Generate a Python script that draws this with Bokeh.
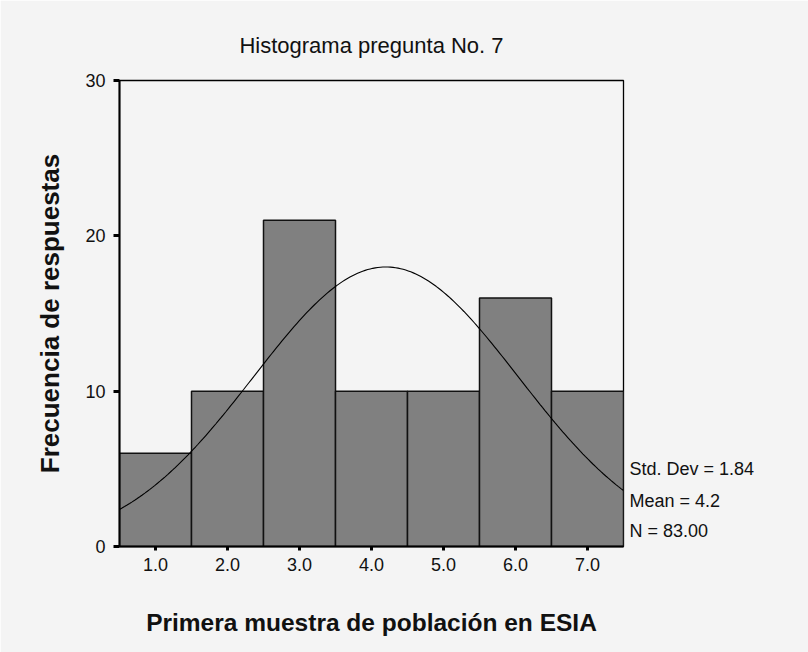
import numpy as np
from bokeh.plotting import figure
from bokeh.models import Range1d, FixedTicker, NumeralTickFormatter, LinearAxis, ColumnDataSource
from bokeh.embed import file_html
from bokeh.resources import INLINE

# ---- data ----
bin_centers = [1.0, 2.0, 3.0, 4.0, 5.0, 6.0, 7.0]
frequencies = [6, 10, 21, 10, 10, 16, 10]
y_ticks = [0, 10, 20, 30]
std_dev = 1.84
mean = 4.2
n_total = 83
bin_width = 1.0

title_text = "Histograma pregunta No. 7"
x_label_text = "Primera muestra de población en ESIA"
y_label_text = "Frecuencia de respuestas"
stats_texts = ["Std. Dev = 1.84", "Mean = 4.2", "N = 83.00"]
stats_rows = [4.96, 2.96, 1.03]   # vertical placement of the statistics lines (y units)

FONT = "Liberation Sans"
BG = "#f4f4f4"
INK = "#111111"

p = figure(width=808, height=652, output_backend="svg", toolbar_location=None,
           x_range=Range1d(0.5, 7.5), y_range=Range1d(0, 30),
           min_border_left=119, min_border_right=185, min_border_top=80, min_border_bottom=106)
p.background_fill_color = BG
p.border_fill_color = BG
p.outline_line_color = "black"
p.outline_line_width = 1.3
p.xgrid.visible = False
p.ygrid.visible = False

# title
p.title.text = title_text
p.title.align = "center"
p.title.text_font = FONT
p.title.text_font_size = "22px"
p.title.text_font_style = "normal"
p.title.text_color = INK
p.title.standoff = 46

# bars
src = ColumnDataSource(dict(x=bin_centers, top=frequencies))
p.vbar(x="x", top="top", width=bin_width, bottom=0, source=src,
       fill_color="#808080", line_color=INK, line_width=1.5)

# fitted normal curve from the displayed statistics
xs = np.linspace(0.5, 7.5, 200)
ys = n_total * bin_width / (std_dev * np.sqrt(2 * np.pi)) * np.exp(-0.5 * ((xs - mean) / std_dev) ** 2)
p.line(xs, ys, line_color="black", line_width=1.1)

# axes
for ax in (p.xaxis[0], p.yaxis[0]):
    ax.axis_line_color = "black"
    ax.axis_line_width = 2
    ax.major_tick_line_color = "black"
    ax.major_tick_line_width = 3
    ax.major_tick_in = 0
    ax.minor_tick_line_color = None
    ax.major_label_text_font = FONT
    ax.major_label_text_font_size = "18px"
    ax.major_label_text_color = INK
    ax.axis_label_text_font = FONT
    ax.axis_label_text_font_style = "bold"
    ax.axis_label_text_color = INK

p.yaxis[0].ticker = FixedTicker(ticks=y_ticks)
p.yaxis[0].major_tick_out = 6
p.yaxis[0].major_label_standoff = 8
p.yaxis[0].axis_label = y_label_text
p.yaxis[0].axis_label_text_font_size = "26px"
p.yaxis[0].axis_label_standoff = 17

p.xaxis[0].ticker = FixedTicker(ticks=bin_centers)
p.xaxis[0].formatter = NumeralTickFormatter(format="0.0")
p.xaxis[0].major_tick_out = 4
p.xaxis[0].major_label_standoff = 7
p.xaxis[0].axis_label = x_label_text
p.xaxis[0].axis_label_text_font_size = "24.5px"
p.xaxis[0].axis_label_standoff = 35

# statistics text on the right side
stats_axis = LinearAxis(ticker=FixedTicker(ticks=stats_rows),
                        major_label_overrides={v: t for v, t in zip(stats_rows, stats_texts)},
                        axis_line_color=None, major_tick_line_color=None, minor_tick_line_color=None,
                        major_tick_out=0, major_tick_in=0, major_label_standoff=6,
                        major_label_text_font=FONT, major_label_text_font_size="18px",
                        major_label_text_color=INK)
p.add_layout(stats_axis, "right")

open("out.html", "w").write(file_html(p, INLINE))
